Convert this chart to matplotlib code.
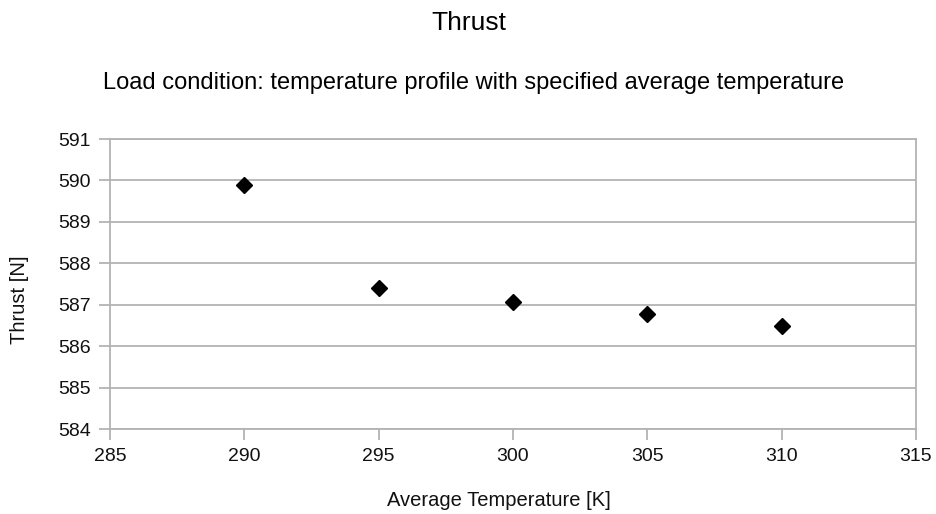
import matplotlib.pyplot as plt

# Datos
temperatura = [290, 295, 300, 305, 310]
empuje = [589.9, 587.4, 587.07, 586.77, 586.48]

x_ticks = [285, 290, 295, 300, 305, 310, 315]
y_ticks = [584, 585, 586, 587, 588, 589, 590, 591]

plt.rcParams['font.family'] = ['Liberation Sans', 'DejaVu Sans']

W, H = 937, 514
fig = plt.figure(figsize=(W / 100, H / 100), dpi=100)
ax = fig.add_axes([110 / W, 1 - 429 / H, (916 - 110) / W, (429 - 139) / H])

gris = '#b3b3b3'
ax.plot(temperatura, empuje, linestyle='none', marker='D', markersize=8.5,
        color='black', clip_on=False, zorder=3)

ax.set_xlim(285, 315)
ax.set_ylim(584, 591)
ax.set_xticks(x_ticks)
ax.set_yticks(y_ticks)
ax.grid(axis='y', color=gris, linewidth=1.3)
ax.set_axisbelow(True)
for lado in ['left', 'right', 'top', 'bottom']:
    ax.spines[lado].set_color(gris)
    ax.spines[lado].set_linewidth(1.3)
ax.tick_params(axis='both', colors=gris, labelcolor='#111111', labelsize=14,
               length=8, width=1.3, pad=6)

# Etiquetas de ejes
fig.text(499 / W, 1 - 501 / H, "Average Temperature [K]", ha='center', va='center',
         fontsize=14.5, color='#111111')
fig.text(20 / W, 1 - 300 / H, "Thrust [N]", ha='center', va='center',
         rotation=90, fontsize=14.5, color='#111111')

# Titulos
fig.text(469 / W, 1 - 23 / H, "Thrust", ha='center', va='center', fontsize=19)
fig.text(474 / W, 1 - 83 / H,
         "Load condition: temperature profile with specified average temperature",
         ha='center', va='center', fontsize=17)

fig.savefig("out.png", dpi=100)
